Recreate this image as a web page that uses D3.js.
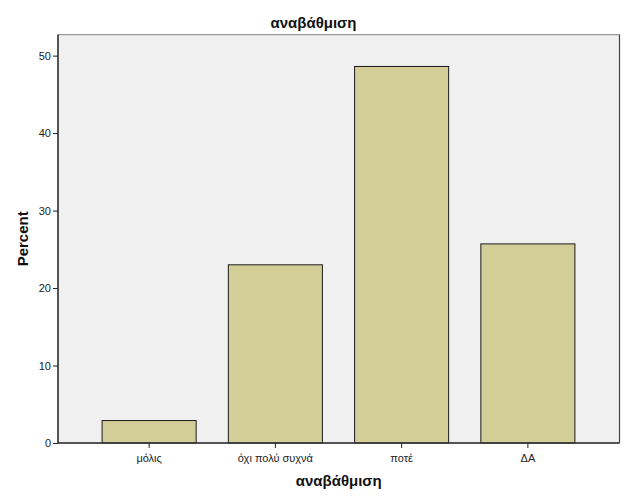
<!DOCTYPE html>
<html>
<head>
<meta charset="utf-8">
<script src="https://cdn.jsdelivr.net/npm/d3@7"></script>
<style>
html,body{margin:0;padding:0;background:#fff;}
svg{display:block;font-family:"Liberation Sans",Arial,sans-serif;}
</style>
</head>
<body>
<svg id="chart" width="627" height="502"></svg>
<script>
const categories = ["μόλις", "όχι πολύ συχνά", "ποτέ", "ΔΑ"];
const percentValues = [2.9, 23.0, 48.6, 25.7];
const yTickValues = [0, 10, 20, 30, 40, 50];
const chartTitle = "αναβάθμιση";
const xAxisTitle = "αναβάθμιση";
const yAxisTitle = "Percent";

const svg = d3.select("#chart");
const frame = {left: 58, right: 619.5, top: 34.7, bottom: 443};

const x = d3.scaleBand()
  .domain(categories)
  .range([86, 591])
  .paddingInner(0.255)
  .paddingOuter(0.1275);

const y = d3.scaleLinear()
  .domain([0, 52.7])
  .range([frame.bottom, frame.top]);

// plot background
svg.append("rect")
  .attr("x", frame.left).attr("y", frame.top)
  .attr("width", frame.right - frame.left)
  .attr("height", frame.bottom - frame.top)
  .attr("fill", "#f0f0f0")
  .attr("stroke", "#808080")
  .attr("stroke-width", 1);
svg.append("line")
  .attr("x1", frame.right).attr("x2", frame.right)
  .attr("y1", frame.top).attr("y2", frame.bottom)
  .attr("stroke", "#444").attr("stroke-width", 1.2);

// bars
svg.append("g").selectAll("rect")
  .data(categories)
  .join("rect")
  .attr("x", d => x(d))
  .attr("width", x.bandwidth())
  .attr("y", (d, i) => y(percentValues[i]))
  .attr("height", (d, i) => y(0) - y(percentValues[i]))
  .attr("fill", "#d3ce97")
  .attr("stroke", "#1a1a1a")
  .attr("stroke-width", 1);

// y axis
const yAxis = svg.append("g")
  .attr("transform", `translate(${frame.left},0)`)
  .call(d3.axisLeft(y).tickValues(yTickValues).tickSize(5).tickPadding(2).tickFormat(d3.format("d")));
yAxis.select(".domain").attr("d", `M0,${frame.top}V${frame.bottom}`).attr("stroke", "#333").attr("stroke-width", 1.5);
yAxis.selectAll(".tick line").attr("stroke", "#222");
yAxis.selectAll(".tick text").attr("font-size", 11).attr("fill", "#222")
  .attr("font-family", "Liberation Sans, Arial, sans-serif");

// x axis
const xAxis = svg.append("g")
  .attr("transform", `translate(0,${frame.bottom})`)
  .call(d3.axisBottom(x).tickSize(5).tickPadding(6));
xAxis.select(".domain").attr("d", `M${frame.left},0H${frame.right}`).attr("stroke", "#333").attr("stroke-width", 1.5);
xAxis.selectAll(".tick line").attr("stroke", "#222");
xAxis.selectAll(".tick text").attr("font-size", 11).attr("fill", "#222")
  .attr("font-family", "Liberation Sans, Arial, sans-serif");

// titles
svg.append("text")
  .attr("x", 313.5).attr("y", 28)
  .attr("text-anchor", "middle")
  .attr("font-size", 15).attr("font-weight", "bold").attr("fill", "#111")
  .text(chartTitle);

svg.append("text")
  .attr("x", (frame.left + frame.right) / 2).attr("y", 486)
  .attr("text-anchor", "middle")
  .attr("font-size", 15).attr("font-weight", "bold").attr("fill", "#111")
  .text(xAxisTitle);

svg.append("text")
  .attr("transform", `translate(28,${(frame.top + frame.bottom) / 2}) rotate(-90)`)
  .attr("text-anchor", "middle")
  .attr("font-size", 15).attr("font-weight", "bold").attr("fill", "#111")
  .text(yAxisTitle);
</script>
</body>
</html>
